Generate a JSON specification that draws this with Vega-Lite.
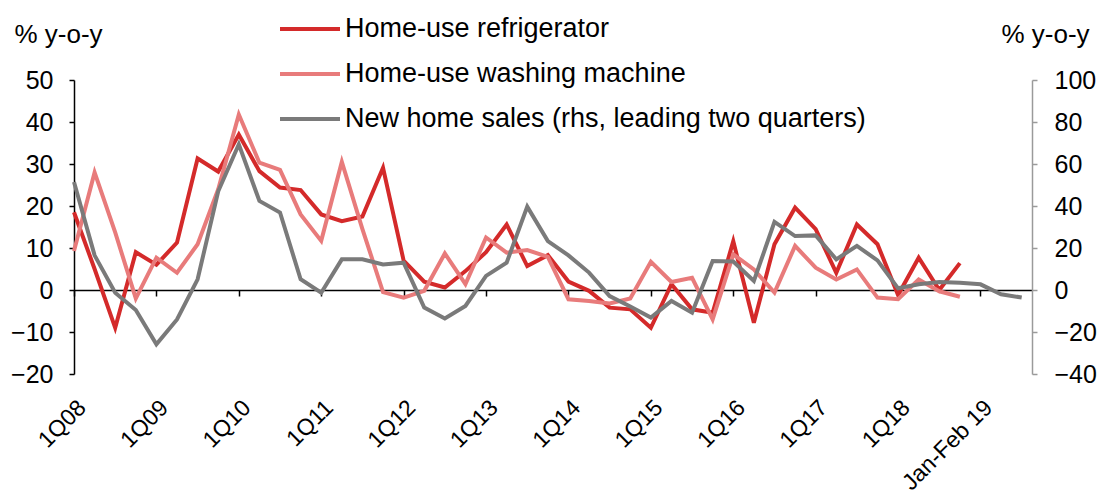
{
  "$schema": "https://vega.github.io/schema/vega-lite/v6.json",
  "autosize": {"type": "none"},
  "padding": {"left": 74, "top": 80, "right": 70, "bottom": 127},
  "width": 958,
  "height": 294,
  "background": "white",
  "config": {"view": {"stroke": null}, "font": "Liberation Sans"},
  "data": {"values": [
    {"q":0,"s":"Home-use refrigerator","v":18.5},{"q":1,"s":"Home-use refrigerator","v":5},{"q":2,"s":"Home-use refrigerator","v":-9},{"q":3,"s":"Home-use refrigerator","v":9},{"q":4,"s":"Home-use refrigerator","v":6},{"q":5,"s":"Home-use refrigerator","v":11.3},{"q":6,"s":"Home-use refrigerator","v":31.3},{"q":7,"s":"Home-use refrigerator","v":28.2},{"q":8,"s":"Home-use refrigerator","v":37},{"q":9,"s":"Home-use refrigerator","v":28.3},{"q":10,"s":"Home-use refrigerator","v":24.4},{"q":11,"s":"Home-use refrigerator","v":23.8},{"q":12,"s":"Home-use refrigerator","v":18},{"q":13,"s":"Home-use refrigerator","v":16.4},{"q":14,"s":"Home-use refrigerator","v":17.5},{"q":15,"s":"Home-use refrigerator","v":29.1},{"q":16,"s":"Home-use refrigerator","v":7},{"q":17,"s":"Home-use refrigerator","v":2},{"q":18,"s":"Home-use refrigerator","v":0.6},{"q":19,"s":"Home-use refrigerator","v":4.5},{"q":20,"s":"Home-use refrigerator","v":9},{"q":21,"s":"Home-use refrigerator","v":15.6},{"q":22,"s":"Home-use refrigerator","v":5.7},{"q":23,"s":"Home-use refrigerator","v":8.3},{"q":24,"s":"Home-use refrigerator","v":2},{"q":25,"s":"Home-use refrigerator","v":-0.2},{"q":26,"s":"Home-use refrigerator","v":-4.2},{"q":27,"s":"Home-use refrigerator","v":-4.6},{"q":28,"s":"Home-use refrigerator","v":-9},{"q":29,"s":"Home-use refrigerator","v":1.4},{"q":30,"s":"Home-use refrigerator","v":-4.6},{"q":31,"s":"Home-use refrigerator","v":-5.4},{"q":32,"s":"Home-use refrigerator","v":11.6},{"q":33,"s":"Home-use refrigerator","v":-7.8},{"q":34,"s":"Home-use refrigerator","v":10.9},{"q":35,"s":"Home-use refrigerator","v":19.6},{"q":36,"s":"Home-use refrigerator","v":14.5},{"q":37,"s":"Home-use refrigerator","v":4.1},{"q":38,"s":"Home-use refrigerator","v":15.6},{"q":39,"s":"Home-use refrigerator","v":10.9},{"q":40,"s":"Home-use refrigerator","v":-1.2},{"q":41,"s":"Home-use refrigerator","v":7.7},{"q":42,"s":"Home-use refrigerator","v":0},{"q":43,"s":"Home-use refrigerator","v":6.4},
    {"q":0,"s":"Home-use washing machine","v":9.3},{"q":1,"s":"Home-use washing machine","v":28},{"q":2,"s":"Home-use washing machine","v":13.7},{"q":3,"s":"Home-use washing machine","v":-2},{"q":4,"s":"Home-use washing machine","v":7.7},{"q":5,"s":"Home-use washing machine","v":4.1},{"q":6,"s":"Home-use washing machine","v":10.9},{"q":7,"s":"Home-use washing machine","v":24},{"q":8,"s":"Home-use washing machine","v":41.8},{"q":9,"s":"Home-use washing machine","v":30.3},{"q":10,"s":"Home-use washing machine","v":28.6},{"q":11,"s":"Home-use washing machine","v":18},{"q":12,"s":"Home-use washing machine","v":11.7},{"q":13,"s":"Home-use washing machine","v":30.5},{"q":14,"s":"Home-use washing machine","v":14.5},{"q":15,"s":"Home-use washing machine","v":-0.5},{"q":16,"s":"Home-use washing machine","v":-1.8},{"q":17,"s":"Home-use washing machine","v":-0.2},{"q":18,"s":"Home-use washing machine","v":8.7},{"q":19,"s":"Home-use washing machine","v":1.4},{"q":20,"s":"Home-use washing machine","v":12.5},{"q":21,"s":"Home-use washing machine","v":8.9},{"q":22,"s":"Home-use washing machine","v":9.5},{"q":23,"s":"Home-use washing machine","v":7.9},{"q":24,"s":"Home-use washing machine","v":-2.2},{"q":25,"s":"Home-use washing machine","v":-2.6},{"q":26,"s":"Home-use washing machine","v":-3.2},{"q":27,"s":"Home-use washing machine","v":-2},{"q":28,"s":"Home-use washing machine","v":6.7},{"q":29,"s":"Home-use washing machine","v":1.9},{"q":30,"s":"Home-use washing machine","v":2.9},{"q":31,"s":"Home-use washing machine","v":-7},{"q":32,"s":"Home-use washing machine","v":8.5},{"q":33,"s":"Home-use washing machine","v":4.9},{"q":34,"s":"Home-use washing machine","v":-0.6},{"q":35,"s":"Home-use washing machine","v":10.5},{"q":36,"s":"Home-use washing machine","v":5.3},{"q":37,"s":"Home-use washing machine","v":2.5},{"q":38,"s":"Home-use washing machine","v":4.9},{"q":39,"s":"Home-use washing machine","v":-1.8},{"q":40,"s":"Home-use washing machine","v":-2.2},{"q":41,"s":"Home-use washing machine","v":2.5},{"q":42,"s":"Home-use washing machine","v":-0.3},{"q":43,"s":"Home-use washing machine","v":-1.6},
    {"q":0,"s":"New home sales (rhs, leading two quarters)","v":51.4},{"q":1,"s":"New home sales (rhs, leading two quarters)","v":16.5},{"q":2,"s":"New home sales (rhs, leading two quarters)","v":-1.3},{"q":3,"s":"New home sales (rhs, leading two quarters)","v":-9.5},{"q":4,"s":"New home sales (rhs, leading two quarters)","v":-25.9},{"q":5,"s":"New home sales (rhs, leading two quarters)","v":-14},{"q":6,"s":"New home sales (rhs, leading two quarters)","v":5.1},{"q":7,"s":"New home sales (rhs, leading two quarters)","v":47},{"q":8,"s":"New home sales (rhs, leading two quarters)","v":69.4},{"q":9,"s":"New home sales (rhs, leading two quarters)","v":42.4},{"q":10,"s":"New home sales (rhs, leading two quarters)","v":36.9},{"q":11,"s":"New home sales (rhs, leading two quarters)","v":5.1},{"q":12,"s":"New home sales (rhs, leading two quarters)","v":-1.3},{"q":13,"s":"New home sales (rhs, leading two quarters)","v":14.6},{"q":14,"s":"New home sales (rhs, leading two quarters)","v":14.6},{"q":15,"s":"New home sales (rhs, leading two quarters)","v":12.2},{"q":16,"s":"New home sales (rhs, leading two quarters)","v":13},{"q":17,"s":"New home sales (rhs, leading two quarters)","v":-8.4},{"q":18,"s":"New home sales (rhs, leading two quarters)","v":-13.6},{"q":19,"s":"New home sales (rhs, leading two quarters)","v":-7.6},{"q":20,"s":"New home sales (rhs, leading two quarters)","v":6.7},{"q":21,"s":"New home sales (rhs, leading two quarters)","v":13},{"q":22,"s":"New home sales (rhs, leading two quarters)","v":39.7},{"q":23,"s":"New home sales (rhs, leading two quarters)","v":23.3},{"q":24,"s":"New home sales (rhs, leading two quarters)","v":16.5},{"q":25,"s":"New home sales (rhs, leading two quarters)","v":8.3},{"q":26,"s":"New home sales (rhs, leading two quarters)","v":-2.9},{"q":27,"s":"New home sales (rhs, leading two quarters)","v":-7.9},{"q":28,"s":"New home sales (rhs, leading two quarters)","v":-13.1},{"q":29,"s":"New home sales (rhs, leading two quarters)","v":-5.2},{"q":30,"s":"New home sales (rhs, leading two quarters)","v":-10.8},{"q":31,"s":"New home sales (rhs, leading two quarters)","v":13.8},{"q":32,"s":"New home sales (rhs, leading two quarters)","v":13.6},{"q":33,"s":"New home sales (rhs, leading two quarters)","v":4.3},{"q":34,"s":"New home sales (rhs, leading two quarters)","v":32.4},{"q":35,"s":"New home sales (rhs, leading two quarters)","v":25.7},{"q":36,"s":"New home sales (rhs, leading two quarters)","v":26},{"q":37,"s":"New home sales (rhs, leading two quarters)","v":14.6},{"q":38,"s":"New home sales (rhs, leading two quarters)","v":21},{"q":39,"s":"New home sales (rhs, leading two quarters)","v":14.1},{"q":40,"s":"New home sales (rhs, leading two quarters)","v":0.8},{"q":41,"s":"New home sales (rhs, leading two quarters)","v":2.7},{"q":42,"s":"New home sales (rhs, leading two quarters)","v":3.8},{"q":43,"s":"New home sales (rhs, leading two quarters)","v":3.5},{"q":44,"s":"New home sales (rhs, leading two quarters)","v":2.7},{"q":45,"s":"New home sales (rhs, leading two quarters)","v":-2},{"q":46,"s":"New home sales (rhs, leading two quarters)","v":-3.6}
  ]},
  "encoding": {
    "x": {
      "field": "q", "type": "quantitative",
      "scale": {"domain": [0, 46.5], "nice": false, "zero": false},
      "axis": {
        "orient": "bottom", "offset": -84, "title": null, "grid": false,
        "values": [0,4,8,12,16,20,24,28,32,36,40,44],
        "labelExpr": "['1Q08','1Q09','1Q10','1Q11','1Q12','1Q13','1Q14','1Q15','1Q16','1Q17','1Q18','Jan-Feb 19'][round(datum.value/4)]",
        "labelAngle": -45, "labelAlign": "right", "labelBaseline": "top",
        "labelPadding": 100, "labelDx": -5, "labelFontSize": 23, "labelColor": "#000000",
        "labelFont": "Liberation Sans", "labelOverlap": false, "labelBound": false, "labelFlush": false,
        "domainColor": "#000000", "domainWidth": 1.5, "tickColor": "#000000", "tickSize": 6, "tickWidth": 1.5
      }
    }
  },
  "layer": [
    {
      "transform": [{"filter": "datum.s !== 'New home sales (rhs, leading two quarters)'"}],
      "mark": {"type": "line", "strokeWidth": 4, "strokeJoin": "miter"},
      "encoding": {
        "y": {
          "field": "v", "type": "quantitative",
          "scale": {"domain": [-20, 50], "nice": false, "zero": false},
          "axis": {
            "orient": "left", "values": [-20,-10,0,10,20,30,40,50], "grid": false,
            "labelFontSize": 25, "labelColor": "#000000", "labelPadding": 16,
            "domainColor": "#000000", "domainWidth": 1.5, "tickColor": "#000000", "tickSize": 5, "tickWidth": 1.5,
            "title": "% y-o-y", "titleAngle": 0, "titleAlign": "left", "titleBaseline": "middle",
            "titleX": -60, "titleY": -46, "titleFontSize": 26, "titleFontWeight": "normal", "titleColor": "#000000"
          }
        },
        "color": {
          "field": "s", "type": "nominal",
          "scale": {
            "domain": ["Home-use refrigerator", "Home-use washing machine", "New home sales (rhs, leading two quarters)"],
            "range": ["#d42a2a", "#e87b7b", "#7a7a7a"]
          },
          "legend": {
            "title": null, "orient": "none", "legendX": 204, "legendY": -83,
            "direction": "vertical", "padding": 0,
            "symbolType": "stroke", "symbolSize": 3600, "symbolStrokeWidth": 4,
            "labelFontSize": 27, "labelColor": "#000000", "labelOffset": 3, "rowPadding": -35, "labelLimit": 700
          }
        }
      }
    },
    {
      "transform": [{"filter": "datum.s === 'New home sales (rhs, leading two quarters)'"}],
      "mark": {"type": "line", "strokeWidth": 4, "strokeJoin": "miter"},
      "encoding": {
        "y": {
          "field": "v", "type": "quantitative",
          "scale": {"domain": [-40, 100], "nice": false, "zero": false},
          "axis": {
            "orient": "right", "values": [-40,-20,0,20,40,60,80,100], "grid": false,
            "labelFontSize": 25, "labelColor": "#000000", "labelPadding": 17,
            "domainColor": "#9a9a9a", "domainWidth": 1.5, "tickColor": "#9a9a9a", "tickSize": 5, "tickWidth": 1.5,
            "title": "% y-o-y", "titleAngle": 0, "titleAlign": "left", "titleBaseline": "middle",
            "titleX": -31, "titleY": -46, "titleFontSize": 26, "titleFontWeight": "normal", "titleColor": "#000000"
          }
        },
        "color": {"field": "s", "type": "nominal"}
      }
    }
  ],
  "resolve": {"scale": {"y": "independent"}}
}
